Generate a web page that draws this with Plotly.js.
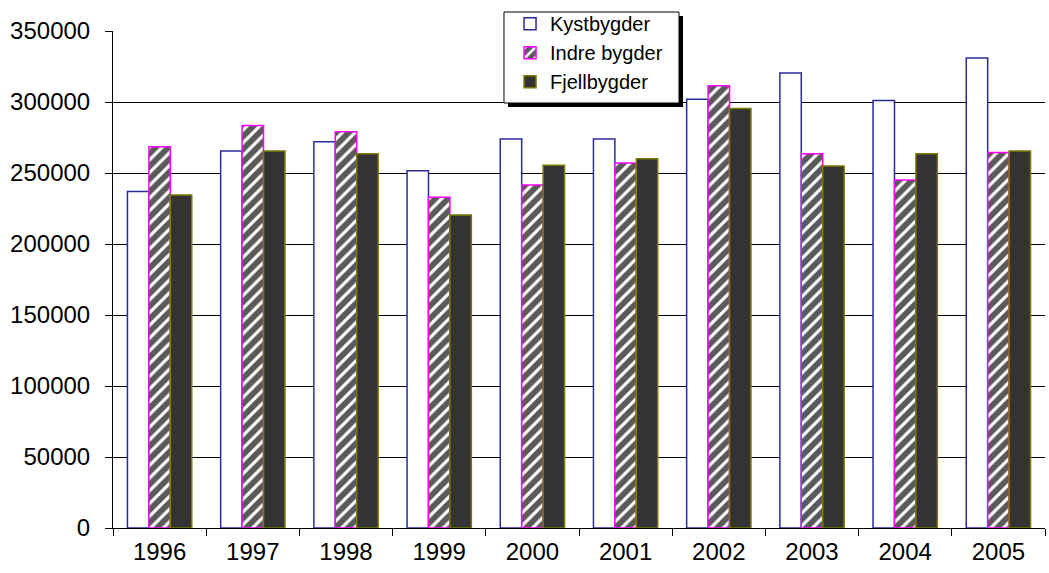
<!DOCTYPE html>
<html>
<head>
<meta charset="utf-8">
<script src="https://cdn.plot.ly/plotly-3.0.1.min.js"></script>
<style>html,body{margin:0;padding:0;background:#fff;}#chart{width:1049px;height:573px;}</style>
</head>
<body>
<div id="chart"></div>
<script>
const years = ['1996','1997','1998','1999','2000','2001','2002','2003','2004','2005'];
const kystbygder = [237000, 265500, 272000, 251500, 274000, 274000, 302000, 320500, 301000, 331000];
const indreBygder = [268500, 283500, 279000, 233000, 241500, 257000, 311500, 263500, 245000, 264500];
const fjellbygder = [234500, 265500, 263500, 220500, 255500, 260000, 295500, 255000, 263500, 265500];
const yTicks = [0, 50000, 100000, 150000, 200000, 250000, 300000, 350000];

const traces = [
  {type:'bar', name:'Kystbygder', x:years, y:kystbygder, legendgroup:'a',
   marker:{color:'#ffffff', line:{color:'#2a2a9a', width:1.5}}},
  {type:'bar', name:'Indre bygder', x:years, y:indreBygder, legendgroup:'b',
   marker:{color:'#555555', line:{color:'#ff00ff', width:1.5},
     pattern:{shape:'/', bgcolor:'#5a5a5a', fgcolor:'#ffffff', size:9, solidity:0.35}}},
  {type:'bar', name:'Fjellbygder', x:years, y:fjellbygder, legendgroup:'c',
   marker:{color:'#333333', line:{color:'#7a7a00', width:1.5}}}
];

const F = 'Arial, "Liberation Sans", sans-serif';
const layout = {
  width:1049, height:573,
  margin:{l:113, r:4, t:31, b:45},
  paper_bgcolor:'#ffffff', plot_bgcolor:'#ffffff',
  font:{family:F, size:24, color:'#000'},
  barmode:'group', bargap:0.31, bargroupgap:0,
  showlegend:true,
  legend:{x:0.426, y:1.054, xanchor:'left', yanchor:'top', bgcolor:'rgba(0,0,0,0)',
    borderwidth:0, font:{size:20, family:F, color:'#000'},
    traceorder:'normal', tracegroupgap:6.5, itemwidth:30},
  xaxis:{type:'category', showgrid:false, showline:true, linecolor:'#000', linewidth:1,
    ticks:'outside', tickson:'boundaries', ticklen:7, tickcolor:'#000',
    tickfont:{size:24, family:F}, ticklabelstandoff:2, zeroline:false},
  yaxis:{range:[0,350000], tickvals:yTicks, ticktext:yTicks.map(String), showgrid:true,
    gridcolor:'#000', gridwidth:1, showline:true, linecolor:'#000', linewidth:1,
    ticks:'outside', ticklen:7, tickcolor:'#000', tickfont:{size:24, family:F},
    ticklabelstandoff:10, zeroline:false},
  shapes:[
    {type:'rect', xref:'paper', yref:'paper', x0:0.4238, x1:0.6116, y0:0.8471, y1:1.0302,
     fillcolor:'#000', line:{width:0}, layer:'above'},
    {type:'rect', xref:'paper', yref:'paper', x0:0.4195, x1:0.6073, y0:0.8551, y1:1.0382,
     fillcolor:'#fff', line:{width:1, color:'#000'}, layer:'above'}
  ]
};
Plotly.newPlot('chart', traces, layout, {displayModeBar:false, staticPlot:true});
</script>
</body>
</html>
